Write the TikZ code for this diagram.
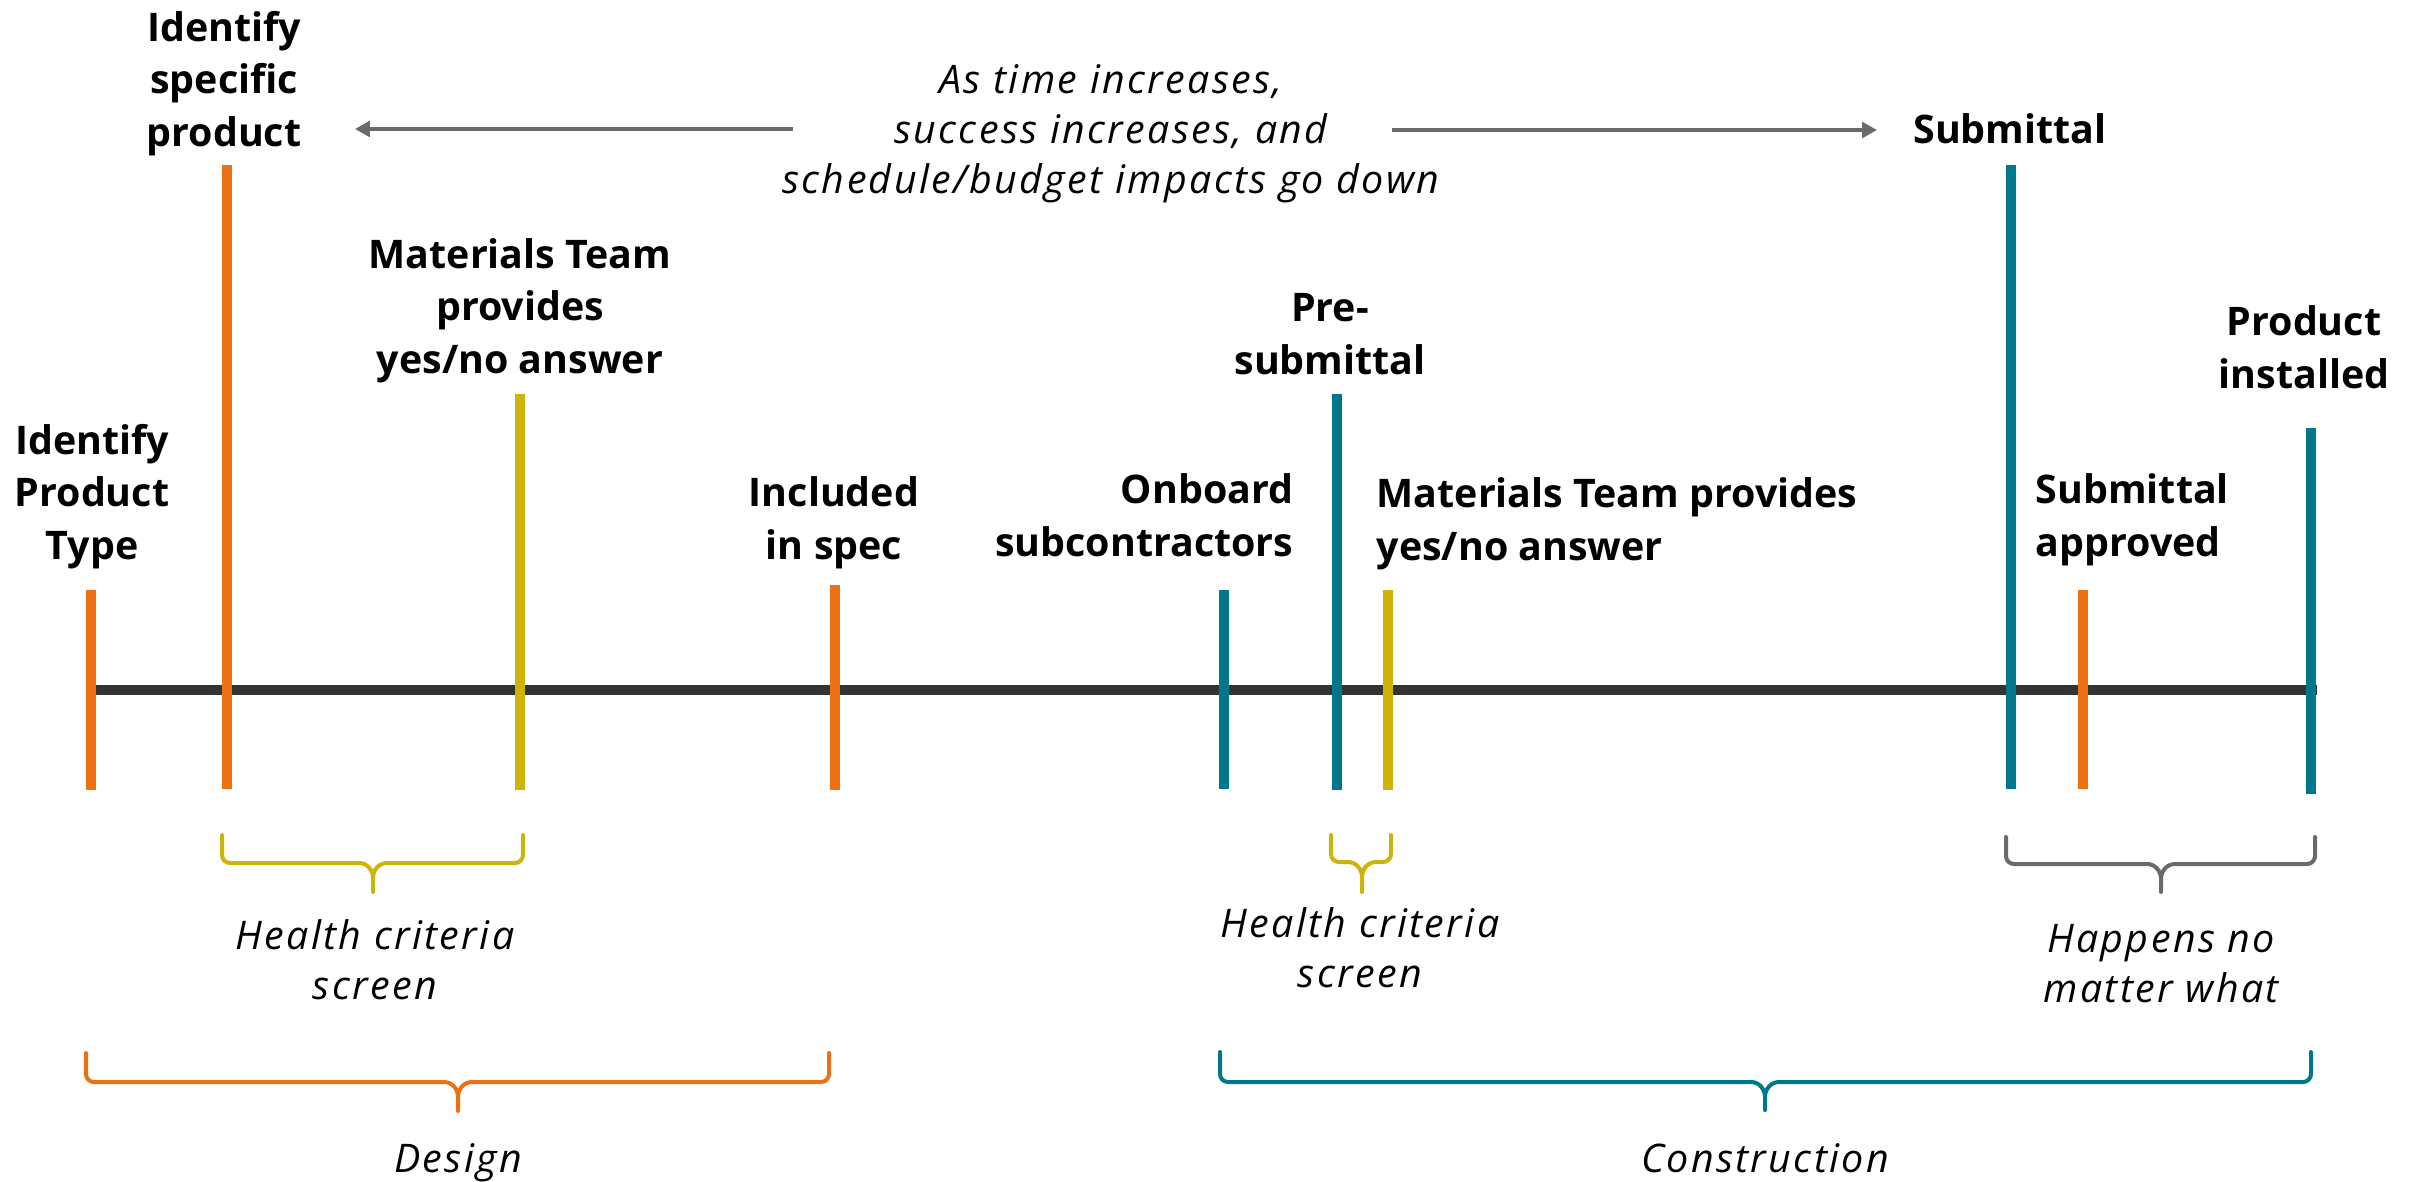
\documentclass[tikz,border=0pt]{standalone}
\usepackage{fontspec}
\setmainfont{Open Sans}
\newfontfamily\labit{Open Sans}[LetterSpace=6.0]
\usetikzlibrary{arrows.meta}
\definecolor{corange}{HTML}{EC7016}
\definecolor{cteal}{HTML}{00778B}
\definecolor{cyellow}{HTML}{CDB408}
\definecolor{cgray}{HTML}{6A6A6A}
\definecolor{cline}{HTML}{333333}
\tikzset{
  lab/.style={font=\bfseries\fontsize{11.2}{14.8}\selectfont, align=center, inner sep=0pt, anchor=base},
  itl/.style={font=\labit\itshape\fontsize{11.2}{14.2}\selectfont, align=center, inner sep=0pt, anchor=base},
  tick/.style={line width=1mm},
  brc/.style={line width=0.4mm, line cap=round, line join=round},
  timearrow/.style={draw=cgray, line width=0.35mm, -{Triangle[length=4.2pt,width=4.4pt]}},
}
% brace: #1 left x, #2 right x, #3 tip x, #4 top y, #5 mid y, #6 bottom y, #7 colour
\newcommand{\mybrace}[7]{%
  \draw[brc,#7] (#1,#4) -- (#1,#5-8) to[out=-90,in=180] (#1+8,#5) -- (#3-14,#5)
     to[out=0,in=90] (#3,#5+15) -- (#3,#6);
  \draw[brc,#7] (#2,#4) -- (#2,#5-8) to[out=-90,in=0] (#2-8,#5) -- (#3+14,#5)
     to[out=180,in=90] (#3,#5+15);
}
\begin{document}
\begin{tikzpicture}[x=0.01cm,y=-0.01cm]
\useasboundingbox[fill=white] (0,0) rectangle (2420,1181);

% timeline
\coordinate (tlstart) at (91,690);
\coordinate (tlend) at (2317,690);
\draw[cline, line width=1mm] (tlstart) -- (tlend);

% ticks
\draw[tick,corange] (91,590) -- (91,790);
\draw[tick,corange] (227,165) -- (227,789);
\draw[tick,cyellow] (520,394) -- (520,790);
\draw[tick,corange] (835,585) -- (835,790);
\draw[tick,cteal] (1224,590) -- (1224,789);
\draw[tick,cteal] (1337,394) -- (1337,790);
\draw[tick,cyellow] (1388,590) -- (1388,790);
\draw[tick,cteal] (2011,165) -- (2011,789);
\draw[tick,corange] (2083,590) -- (2083,789);
\draw[tick,cteal] (2311,428) -- (2311,794);

% labels (anchor = baseline of last line)
\node[lab] (ipt) at (92,559) {Identify\\Product\\Type};
\node[lab] (isp) at (224,146) {Identify\\specific\\product};
\node[lab] (mt1) at (520,373) {Materials Team\\provides\\yes/no answer};
\node[lab] (inc) at (834,559) {Included\\in spec};
\node[lab, anchor=base east, align=right] (onb) at (1294,556) {Onboard\\subcontractors};
\node[lab] (pre) at (1330,374) {Pre-\\submittal};
\node[lab, anchor=base west, align=left] (mt2) at (1376,560) {Materials Team provides\\yes/no answer};
\node[lab] (sub) at (2010,143) {Submittal};
\node[lab, anchor=base west, align=left] (sap) at (2035,556) {Submittal\\approved};
\node[lab] (pin) at (2304,388) {Product\\installed};

% time note and arrows
\node[itl] (note) at (1111,193) {As time increases,\\success increases, and\\schedule/budget impacts go down};
\coordinate (la) at (793,129);
\coordinate (lb) at (355,129);
\coordinate (ra) at (1392,130);
\coordinate (rb) at (1877,130);
\draw[timearrow] (la) -- (lb);
\draw[timearrow] (ra) -- (rb);

% braces
\mybrace{222}{523}{373}{835}{863}{892}{cyellow}
\mybrace{1331}{1391}{1362}{835}{862}{892}{cyellow}
\mybrace{2006}{2315}{2161}{837}{864}{892}{cgray}
\mybrace{86}{829}{458}{1053}{1082}{1111}{corange}
\mybrace{1220}{2311}{1765}{1052}{1082}{1110}{cteal}

% brace labels
\node[itl] (hc1) at (375,999) {Health criteria\\screen};
\node[itl] (hc2) at (1360,987) {Health criteria\\screen};
\node[itl] (hap) at (2161,1002) {Happens no\\matter what};
\node[itl] (des) at (458,1172) {Design};
\node[itl] (con) at (1765,1172) {Construction};
\end{tikzpicture}
\end{document}
